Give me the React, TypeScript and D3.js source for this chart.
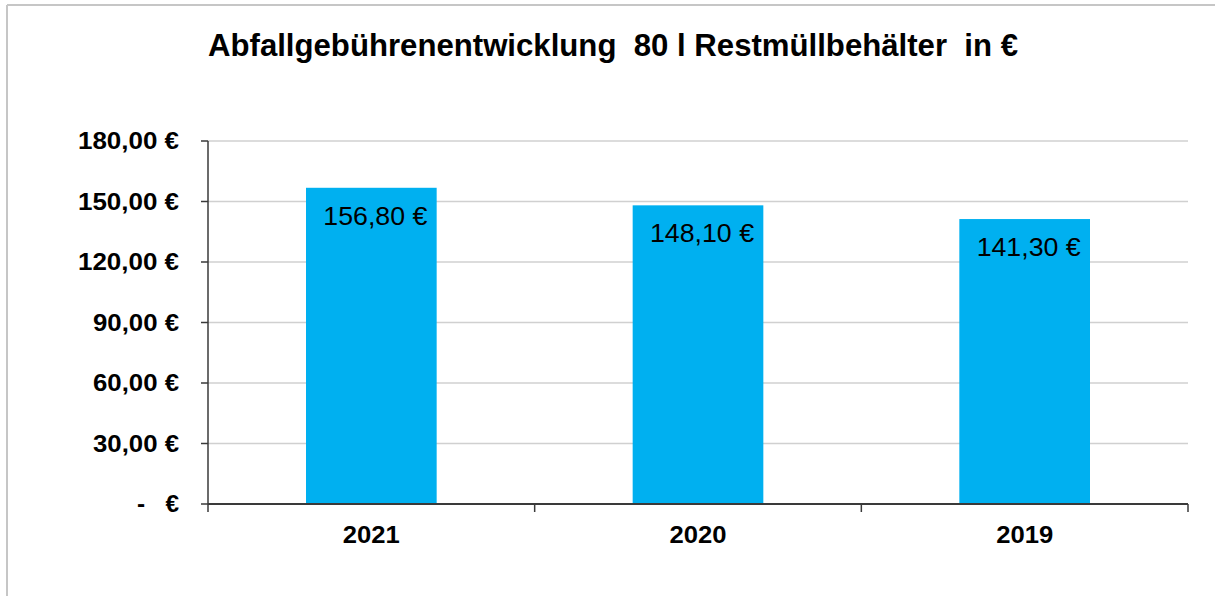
import React from "react";
import * as d3 from "d3";

const categories = ["2021", "2020", "2019"];
const values = [156.8, 148.1, 141.3];
const yTicks = [0, 30, 60, 90, 120, 150, 180];
const yTickLabels = ["-   €", "30,00 €", "60,00 €", "90,00 €", "120,00 €", "150,00 €", "180,00 €"];
const valueLabels = ["156,80 €", "148,10 €", "141,30 €"];
const title = "Abfallgebührenentwicklung  80 l Restmüllbehälter  in €";

const W = 1215;
const H = 596;
const plot = { left: 208, right: 1188, top: 141, bottom: 504 };

export default function App() {
  const x = d3.scaleBand<string>().domain(categories).range([plot.left, plot.right]).paddingInner(0.6).paddingOuter(0.3);
  const xOuter = d3.scaleBand<string>().domain(categories).range([plot.left, plot.right]);
  const y = d3.scaleLinear().domain([0, 180]).range([plot.bottom, plot.top]);
  const font = "Arial, 'Liberation Sans', sans-serif";
  const tickLabelWidth = (s: string) => (s.length === 8 ? 101 : s.length === 7 ? 86 : 42);
  return (
    <svg width={W} height={H} style={{ position: "absolute", left: 0, top: 0, background: "#fff" }}>
      <rect x={0} y={0} width={W} height={H} fill="#fff" />
      <line x1={7} x2={7} y1={5} y2={H} stroke="#c6c6c6" strokeWidth={2} />
      <line x1={7} x2={W} y1={5} y2={5} stroke="#c6c6c6" strokeWidth={2} />
      <text x={208} y={56} fontFamily={font} fontWeight="bold" fontSize={30.5} textLength={810} lengthAdjust="spacingAndGlyphs" style={{ whiteSpace: "pre" }} fill="#000">
        {title}
      </text>
      {yTicks.map((t) => (
        <line key={"g" + t} x1={plot.left} x2={plot.right} y1={y(t)} y2={y(t)} stroke={t === 0 ? "none" : "#d0d0d0"} strokeWidth={1.5} />
      ))}
      {categories.map((c, i) => (
        <rect key={c} x={x(c)} y={y(values[i])} width={x.bandwidth()} height={plot.bottom - y(values[i])} fill="#00B0F0" />
      ))}
      {categories.map((c, i) => (
        <text key={"v" + c} x={(x(c) as number) + x.bandwidth() / 2 + 4} y={y(values[i]) + 37} textAnchor="middle" fontFamily={font} fontSize={25} textLength={104} lengthAdjust="spacingAndGlyphs" fill="#000">
          {valueLabels[i]}
        </text>
      ))}
      <line x1={plot.left} x2={plot.left} y1={plot.top} y2={plot.bottom} stroke="#3a3a3a" strokeWidth={1.5} />
      <line x1={plot.left} x2={plot.right} y1={plot.bottom} y2={plot.bottom} stroke="#3a3a3a" strokeWidth={2} />
      {yTicks.map((t, i) => (
        <g key={"t" + t}>
          <line x1={plot.left - 7} x2={plot.left} y1={y(t)} y2={y(t)} stroke="#3a3a3a" strokeWidth={1.5} />
          <text x={179} y={y(t) + 8} textAnchor="end" fontFamily={font} fontWeight="bold" fontSize={23.5} textLength={tickLabelWidth(yTickLabels[i])} lengthAdjust="spacingAndGlyphs" style={{ whiteSpace: "pre" }} fill="#000">
            {yTickLabels[i]}
          </text>
        </g>
      ))}
      {categories.concat(["end"]).map((c, i) => {
        const px = i < categories.length ? (xOuter(c) as number) : plot.right;
        return <line key={"xt" + c} x1={px} x2={px} y1={plot.bottom} y2={plot.bottom + 8} stroke="#3a3a3a" strokeWidth={1.5} />;
      })}
      {categories.map((c) => (
        <text key={"xl" + c} x={(xOuter(c) as number) + xOuter.bandwidth() / 2} y={543} textAnchor="middle" fontFamily={font} fontWeight="bold" fontSize={24.5} textLength={57} lengthAdjust="spacingAndGlyphs" fill="#000">
          {c}
        </text>
      ))}
    </svg>
  );
}
